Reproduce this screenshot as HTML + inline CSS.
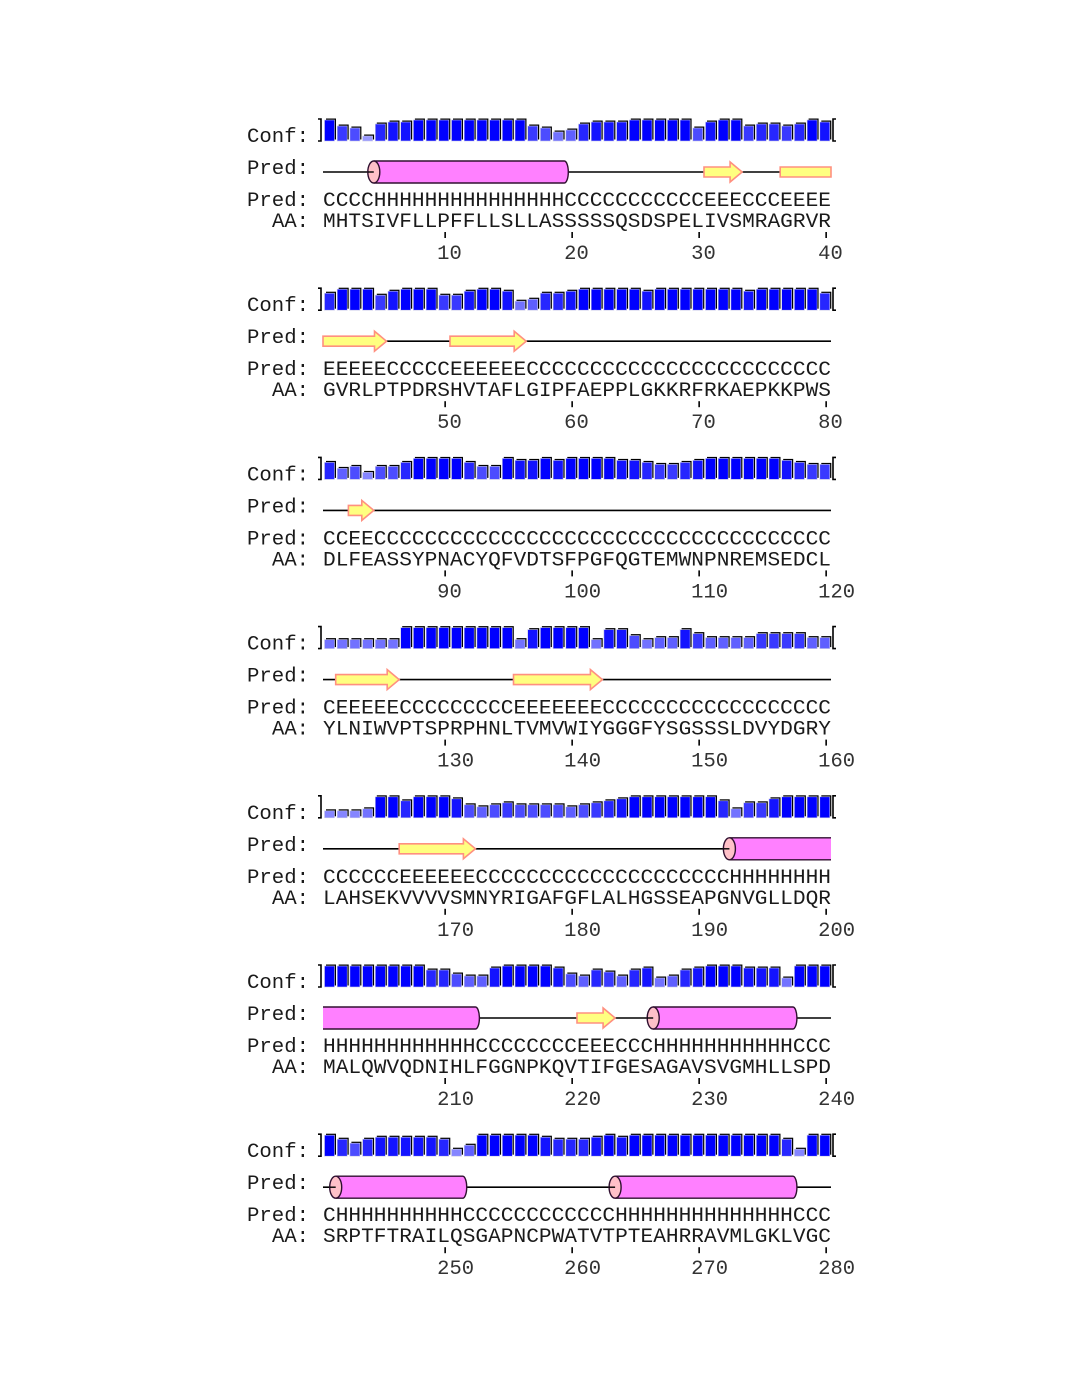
<!DOCTYPE html>
<html><head><meta charset="utf-8"><style>
html,body{margin:0;padding:0;background:#fff;}
svg{display:block;}
text{font-family:"Liberation Mono","DejaVu Sans Mono",monospace;}
</style></head><body>
<svg id="chart" width="1071" height="1389" viewBox="0 0 1071 1389" xmlns="http://www.w3.org/2000/svg"></svg>
<script>
const aaSeq = [
"MHTSIVFLLPFFLLSLLASSSSSQSDSPELIVSMRAGRVR",
"GVRLPTPDRSHVTAFLGIPFAEPPLGKKRFRKAEPKKPWS",
"DLFEASSYPNACYQFVDTSFPGFQGTEMWNPNREMSEDCL",
"YLNIWVPTSPRPHNLTVMVWIYGGGFYSGSSSLDVYDGRY",
"LAHSEKVVVVSMNYRIGAFGFLALHGSSEAPGNVGLLDQR",
"MALQWVQDNIHLFGGNPKQVTIFGESAGAVSVGMHLLSPD",
"SRPTFTRAILQSGAPNCPWATVTPTEAHRRAVMLGKLVGC"];
const predSeq = [
"CCCCHHHHHHHHHHHHHHHCCCCCCCCCCCEEECCCEEEE",
"EEEEECCCCCEEEEEECCCCCCCCCCCCCCCCCCCCCCCC",
"CCEECCCCCCCCCCCCCCCCCCCCCCCCCCCCCCCCCCCC",
"CEEEEECCCCCCCCCEEEEEEECCCCCCCCCCCCCCCCCC",
"CCCCCCEEEEEECCCCCCCCCCCCCCCCCCCCHHHHHHHH",
"HHHHHHHHHHHHCCCCCCCCEEECCCHHHHHHHHHHHCCC",
"CHHHHHHHHHHCCCCCCCCCCCCHHHHHHHHHHHHHHCCC"];
const conf1 = [9,6,5,1,7,8,8,9,9,9,9,9,9,9,9,9,6,5,3,4,7,8,8,8,9,9,9,9,9,5,8,9,9,6,7,7,6,7,9,8];
const conf2 = [7,9,9,9,6,8,9,9,9,6,6,8,9,9,8,3,4,7,7,8,9,9,9,9,9,8,9,9,9,9,9,9,9,8,9,9,9,9,9,7];
const conf3 = [7,4,5,2,5,5,7,9,9,9,9,7,5,5,9,8,8,9,8,9,9,9,9,8,8,7,6,6,7,8,9,9,9,9,9,9,8,7,6,6];
const conf4 = [3,3,3,3,3,3,9,9,9,9,9,9,9,9,9,3,8,9,9,9,9,3,8,8,5,3,4,4,8,6,4,4,4,4,6,6,6,6,4,4];
const conf5 = [2,2,2,3,9,9,7,9,9,9,8,5,4,5,6,5,5,5,5,4,5,6,7,8,9,9,9,9,9,9,9,7,3,6,6,8,9,9,9,9];
const conf6 = [9,9,9,9,9,9,9,9,7,7,5,4,4,8,9,9,9,9,8,5,4,7,6,4,7,8,3,4,7,8,9,9,9,8,8,8,3,9,9,9];
const conf7 = [9,7,5,7,8,8,8,8,8,7,2,4,9,9,9,9,9,8,7,7,7,8,9,8,9,9,9,9,9,9,9,9,9,9,9,9,7,2,9,9];
const confAll = [conf1,conf2,conf3,conf4,conf5,conf6,conf7];
const tickLabels = [[10,20,30,40],[50,60,70,80],[90,100,110,120],[130,140,150,160],[170,180,190,200],[210,220,230,240],[250,260,270,280]];

const NS="http://www.w3.org/2000/svg";
const svg=document.getElementById('chart');
const X0=323, CW=12.7;
const xPos=i=>X0+CW*i;
const confH=c=>3+c*2;
function mk(tag,attrs,parent){const e=document.createElementNS(NS,tag);for(const k in attrs)e.setAttribute(k,attrs[k]);(parent||svg).appendChild(e);return e;}
function txt(s,x,y,anchor,g,len){const t=mk('text',{x:x,y:y,'font-size':'20.5','fill':'#1a1a1a','text-anchor':anchor||'start'},g);if(len){t.setAttribute('textLength',len);t.setAttribute('lengthAdjust','spacingAndGlyphs');}t.textContent=s;return t;}
function confColor(c){const v=Math.round((9-c)*19);return `rgb(${v},${v},255)`;}

for(let b=0;b<7;b++){
  const Y=135+169.2*b;
  const g=mk('g',{});
  
  
  let t;
  t=txt('Conf:',247,Y+7,'start',g,62);  
  t=txt('Pred:',247,Y+39,'start',g,62);  
  t=txt('Pred:',247,Y+71,'start',g,62);  
  t=txt('AA:',272,Y+92,'start',g,37);  
  const base=Y+6;
  let p=mk('path',{d:`M318 ${base-22} h3 v22 h-3`,fill:'none',stroke:'#000','stroke-width':'1.6'},g);
   
  p=mk('path',{d:`M836 ${base-22} h-3 v22 h3`,fill:'none',stroke:'#000','stroke-width':'1.6'},g);
   
  const conf=confAll[b];
  conf.forEach((c,i)=>{
    const h=confH(c), x=xPos(i)+1.5;
    const sh=mk('rect',{x:x+1.5,y:base-h-1.5,width:10,height:h,fill:'#000'},g);
     
    const r=mk('rect',{x:x,y:base-h,width:10,height:h,fill:confColor(c),stroke:'#c8c8e8','stroke-width':'0.6'},g);
     
  });
  const cy=Y+37;
  const ln=mk('line',{x1:323,y1:cy,x2:831,y2:cy,stroke:'#000','stroke-width':'1.6'},g);
   
  const pr=predSeq[b];
  let i=0;
  while(i<40){
    const ch=pr[i]; let j=i; while(j+1<40&&pr[j+1]===ch)j++;
    const sx=xPos(i), ex=xPos(j+1);
    const contL=(i===0&&b>0&&predSeq[b-1][39]===ch), contR=(j===39&&b<6&&predSeq[b+1][0]===ch);
    if(ch==='H'){
      const hh=11;
      const gg=mk('g',{},g);  
      const d=contR?`M${sx} ${cy-hh} H${ex} M${ex} ${cy+hh} H${sx}`:`M${sx} ${cy-hh} H${ex} A4 ${hh} 0 0 1 ${ex} ${cy+hh} H${sx}`;
      mk('path',{d:(contR?`M${sx} ${cy-hh} H${ex} V${cy+hh} H${sx} Z`:`M${sx} ${cy-hh} H${ex} A4 ${hh} 0 0 1 ${ex} ${cy+hh} H${sx} Z`),fill:'#ff80ff',stroke:'none'},gg);
      mk('path',{d:d,fill:'none',stroke:'#301030','stroke-width':'1.4'},gg);
      if(!contL){mk('ellipse',{cx:sx,cy:cy,rx:6,ry:hh,fill:'#ffc0c8',stroke:'#301030','stroke-width':'1.4'},gg);
        mk('line',{x1:sx-6,y1:cy,x2:sx,y2:cy,stroke:'#000','stroke-width':'1.4'},gg);}
    } else if(ch==='E'){
      const gg=mk('g',{},g);  
      let d;
      if(contR) d=`M${sx} ${cy-5} H${ex} V${cy+5} H${sx} Z`;
      else { const hx=ex-12; d=`M${sx} ${cy-5} H${hx} V${cy-10} L${ex} ${cy} L${hx} ${cy+10} V${cy+5} H${sx} Z`; }
      mk('path',{d:d,fill:'#ffff80',stroke:'#ff9080','stroke-width':'1.6'},gg);
    }
    i=j+1;
  }
  t=txt(pr,323,Y+71,'start',g,508);  
  t=txt(aaSeq[b],323,Y+92,'start',g,508);  
  tickLabels[b].forEach((n,k)=>{
    const tx=xPos(10*(k+1)-0.5)+1.5;
    const tk=mk('line',{x1:tx,y1:Y+97,x2:tx,y2:Y+103,stroke:'#000','stroke-width':'1.6'},g);
     
    const lt=txt(String(n),tx-8,Y+124,'start',g,String(n).length*12.3);
    lt.setAttribute('fill','#333');
     
  });
}
</script>
</body></html>
